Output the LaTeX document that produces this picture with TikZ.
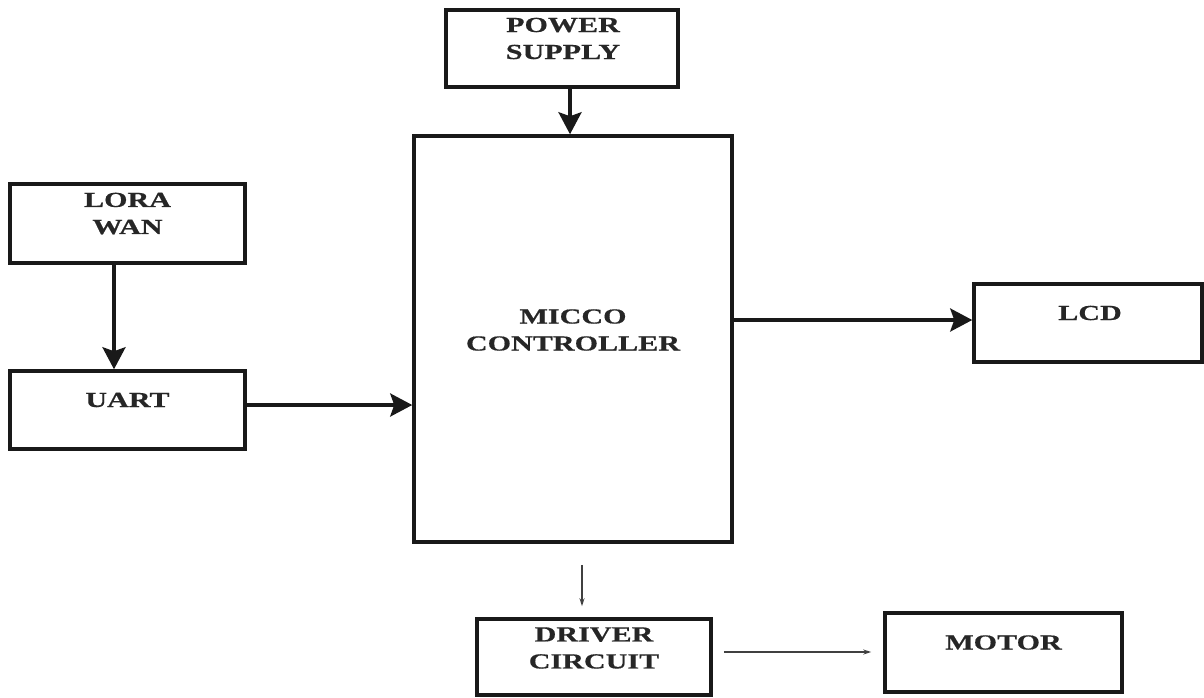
\documentclass[tikz,border=0pt]{standalone}
\usepackage{fontspec}
\setmainfont{Liberation Serif}[FakeStretch=1.4,BoldFeatures={FakeBold=0.6}]
\usetikzlibrary{arrows.meta,calc}
\begin{document}
\begin{tikzpicture}[x=1pt,y=-1pt,
  blk/.style={draw=black!90,line width=3.5pt,rectangle,inner sep=0pt},
  lbl/.style={font=\bfseries\fontsize{21.5}{27}\selectfont,text=black!85,align=center,inner sep=0pt},
  arr/.style={line width=3.5pt,draw=black!90,-{Stealth[length=22pt,width=23pt,inset=4pt]}},
  tarr/.style={line width=1.3pt,draw=black!75,-{Stealth[length=8pt,width=5pt]}}]
\useasboundingbox (0,0) rectangle (1204,697);
% boxes
\node[blk,minimum width=232pt,minimum height=77pt] (ps) at (562,48.5) {};
\node[blk,minimum width=318pt,minimum height=406pt] (mc) at (573,339) {};
\node[blk,minimum width=235pt,minimum height=79pt] (lora) at (127.5,223.5) {};
\node[blk,minimum width=235pt,minimum height=78pt] (uart) at (127.5,410) {};
\node[blk,minimum width=228pt,minimum height=78pt] (lcd) at (1088,323) {};
\node[blk,minimum width=234pt,minimum height=76pt] (drv) at (594,657) {};
\node[blk,minimum width=237pt,minimum height=79pt] (mot) at (1003.5,652.5) {};
% labels
\node[lbl] (psT) at ([xshift=1pt,yshift=10pt]ps.center) {POWER\\SUPPLY};
\node[lbl] (mcT) at ([yshift=9pt]mc.center) {MICCO\\CONTROLLER};
\node[lbl] (loraT) at ([yshift=10pt]lora.center) {LORA\\WAN};
\node[lbl] (uartT) at ([yshift=10pt]uart.center) {UART};
\node[lbl] (lcdT) at ([xshift=2pt,yshift=10pt]lcd.center) {LCD};
\node[lbl] (drvT) at ([yshift=9pt]drv.center) {DRIVER\\CIRCUIT};
\node[lbl] (motT) at ([yshift=10pt]mot.center) {MOTOR};
% connectors
\draw[arr] ([xshift=8pt]ps.south) -- ([xshift=8pt]ps.south |- mc.north);
\draw[arr] ([xshift=-13.5pt]lora.south) -- ([xshift=-13.5pt]lora.south |- uart.north);
\draw[arr] ([yshift=5pt]uart.east) -- ([yshift=5pt]uart.east -| mc.west);
\draw[arr] ([yshift=3pt]lcd.west -| mc.east) -- ([yshift=3pt]lcd.west);
\coordinate (dtop) at ([xshift=9pt,yshift=-21pt]mc.south);
\coordinate (dbot) at ([xshift=-12pt,yshift=11pt]drv.north);
\draw[tarr] (dtop) -- (dbot);
\coordinate (m1) at ([xshift=11pt,yshift=5pt]drv.east);
\coordinate (m2) at ([xshift=-12pt]m1 -| mot.west);
\draw[tarr] (m1) -- (m2);
\end{tikzpicture}
\end{document}
